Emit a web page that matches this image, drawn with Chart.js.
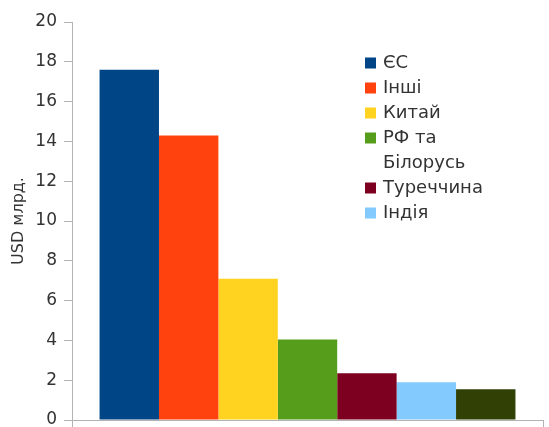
<!DOCTYPE html>
<html>
<head>
<meta charset="utf-8">
<script src="https://cdn.jsdelivr.net/npm/chart.js@4"></script>
<style>
  html, body { margin: 0; padding: 0; background: #fff; }
  #wrap { width: 549px; height: 427px; }
</style>
</head>
<body>
<div id="wrap"><canvas id="c"></canvas></div>
<script>
// Import partners, USD bn
const categories = [''];
const seriesNames = ['ЄС', 'Інші', 'Китай', 'РФ та Білорусь', 'Туреччина', 'Індія', ''];
const seriesValues = [17.6, 14.3, 7.1, 4.05, 2.35, 1.9, 1.55];
const seriesColors = ['#004586', '#ff420e', '#ffd320', '#579d1c', '#7e0021', '#83caff', '#314004'];
const yTicks = [0, 2, 4, 6, 8, 10, 12, 14, 16, 18, 20];
const axisTitle = 'USD млрд.';

const FONT = 'DejaVu Sans';
const TEXT = '#333333';
const AXIS = '#b3b3b3';

function wrapWords(ctx, text, maxW) {
  const words = text.split(' ');
  const lines = [];
  let cur = '';
  words.forEach(w => {
    const test = cur ? cur + ' ' + w : w;
    if (cur && ctx.measureText(test).width > maxW) {
      lines.push(cur);
      cur = w;
    } else {
      cur = test;
    }
  });
  if (cur) lines.push(cur);
  return lines;
}

// Legend drawn inside the plot area, top right
const sideLegend = {
  id: 'sideLegend',
  afterDraw(chart) {
    const ctx = chart.ctx;
    const boxX = 365, textX = 383, step = 25, box = 11, maxW = 118;
    let y = 63;
    ctx.save();
    ctx.font = '18px "' + FONT + '"';
    ctx.textBaseline = 'middle';
    ctx.textAlign = 'left';
    chart.data.datasets.forEach(ds => {
      if (!ds.label) return;
      ctx.fillStyle = ds.backgroundColor;
      ctx.fillRect(boxX, y - box / 2, box, box);
      ctx.fillStyle = TEXT;
      const lines = wrapWords(ctx, ds.label, maxW);
      lines.forEach((ln, i) => ctx.fillText(ln, textX, y + i * step));
      y += lines.length * step;
    });
    ctx.restore();
  }
};

const datasets = seriesNames.map((name, i) => ({
  label: name,
  data: [seriesValues[i]],
  backgroundColor: seriesColors[i],
  borderWidth: 0
}));

new Chart(document.getElementById('c'), {
  type: 'bar',
  data: { labels: categories, datasets },
  options: {
    responsive: true,
    maintainAspectRatio: false,
    animation: false,
    categoryPercentage: 0.883,
    barPercentage: 1.0,
    layout: { padding: { top: 22, right: 6, bottom: 0, left: 0 } },
    plugins: {
      legend: { display: false },
      tooltip: { enabled: false }
    },
    scales: {
      x: {
        offset: true,
        grid: {
          display: true,
          offset: true,
          drawOnChartArea: false,
          drawTicks: true,
          tickLength: 7,
          color: AXIS
        },
        border: { color: AXIS },
        ticks: { display: false },
        afterFit(scale) { scale.height = 7; }
      },
      y: {
        min: 0,
        max: 20,
        afterBuildTicks(scale) {
          scale.ticks = yTicks.map(v => ({ value: v }));
        },
        afterFit(scale) {
          scale.width = 72;
          scale.paddingTop = 0;
          scale.paddingBottom = 0;
        },
        ticks: {
          padding: 7,
          color: TEXT,
          font: { family: FONT, size: 17 }
        },
        grid: {
          drawOnChartArea: false,
          drawTicks: true,
          tickLength: 8,
          color: AXIS
        },
        border: { color: AXIS },
        title: {
          display: true,
          text: axisTitle,
          color: TEXT,
          font: { family: FONT, size: 16 },
          padding: { top: 9, bottom: 0 }
        }
      }
    }
  },
  plugins: [sideLegend]
});
</script>
</body>
</html>
